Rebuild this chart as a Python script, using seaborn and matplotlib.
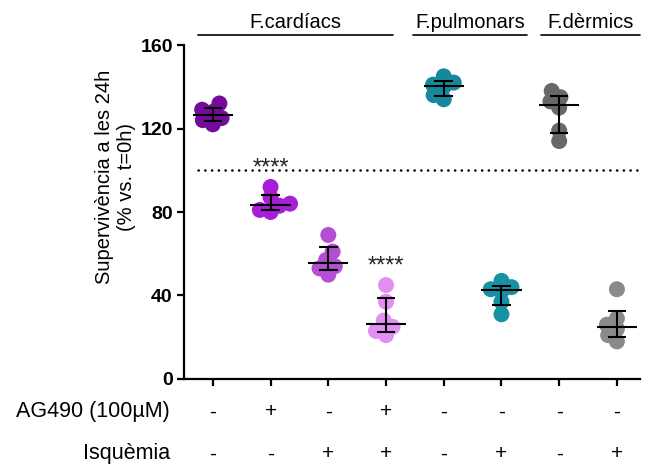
import numpy as np
import pandas as pd
import seaborn as sns
import matplotlib.pyplot as plt
from matplotlib.transforms import blended_transform_factory

# Survival at 24 h (% vs. t=0h), one array per condition
cardiac_ctrl = [122, 124, 125, 128, 129, 132]
cardiac_ag490 = [80, 81, 83, 84, 87, 92]
cardiac_isch = [50, 53, 54, 57, 61, 69]
cardiac_ag490_isch = [21, 23, 25, 28, 37, 45]
pulmonary_ctrl = [134, 136, 140, 141, 142, 145]
pulmonary_isch = [31, 37, 42, 43, 44, 47]
dermal_ctrl = [114, 119, 130, 133, 135, 138]
dermal_isch = [18, 21, 24, 26, 29, 43]

conditions = ["C", "C+AG", "C+I", "C+AG+I", "P", "P+I", "D", "D+I"]
series = [cardiac_ctrl, cardiac_ag490, cardiac_isch, cardiac_ag490_isch,
          pulmonary_ctrl, pulmonary_isch, dermal_ctrl, dermal_isch]
colors = ["#740B9A", "#A51FD6", "#B24FD2", "#E38EF2",
          "#15899B", "#1593A5", "#686868", "#8A8A8A"]

ag490_row = ["-", "+", "-", "+", "-", "-", "-", "-"]
ischemia_row = ["-", "-", "+", "+", "-", "+", "-", "+"]
row_labels = ["AG490 (100µM)", "Isquèmia"]

tissues = ["F.cardíacs", "F.pulmonars", "F.dèrmics"]
tissue_bounds = [(-0.26, 3.12), (3.47, 5.44), (5.68, 7.4)]

significance = {1: "****", 3: "****"}
reference_level = 100
y_ticks = [0, 40, 80, 120, 160]

df = pd.DataFrame({
    "condition": np.repeat(conditions, [len(s) for s in series]),
    "value": np.concatenate(series),
})

sns.set_theme(style="ticks")
plt.rcParams["font.family"] = ["Liberation Sans", "DejaVu Sans"]

fig = plt.figure(figsize=(6.46, 4.68), dpi=100)
ax = fig.add_axes([0.2848, 0.1902, 0.7059, 0.7136])

# compact swarm layout, then enlarge the dots so they overlap
sns.swarmplot(data=df, x="condition", y="value", hue="condition",
              order=conditions, palette=dict(zip(conditions, colors)),
              size=7.5, linewidth=0, legend=False, ax=ax, zorder=2)
ax.set_xlim(-0.5, 7.4)
ax.set_ylim(0, 160)
fig.canvas.draw()
for coll in ax.collections:
    if "draw" in coll.__dict__:
        del coll.draw
    coll.set_sizes([11.5 ** 2])

# median with interquartile range
for i, vals in enumerate(series):
    q1, med, q3 = np.percentile(vals, [25, 50, 75], method="weibull")
    ax.hlines(med, i - 0.35, i + 0.35, color="black", lw=1.5, zorder=3)
    ax.vlines(i, q1, q3, color="black", lw=1.5, zorder=3)
    ax.hlines([q1, q3], i - 0.16, i + 0.16, color="black", lw=1.5, zorder=3)

ax.plot([-0.25, 7.4], [reference_level, reference_level], color="black",
        lw=1.8, linestyle=(0, (0.1, 2.6)), dash_capstyle="round", zorder=1)

for i, mark in significance.items():
    ax.text(i, max(series[i]) + 9, mark, ha="center", va="center",
            fontsize=17, color="#222222")

ax.set_yticks(y_ticks)
ax.set_yticklabels([str(t) for t in y_ticks], fontsize=14, fontweight="bold")
ax.set_xticks(range(len(conditions)))
ax.set_xticklabels([])
ax.set_xlabel("")
ax.set_ylabel("Supervivència a les 24h\n(% vs. t=0h)", fontsize=14.5,
              color="black")
ax.yaxis.set_label_coords(-0.105, 0.605)
ax.tick_params(axis="both", length=5, width=1.6, colors="black", pad=3)
for side in ("left", "bottom"):
    ax.spines[side].set_linewidth(1.6)
    ax.spines[side].set_color("black")
sns.despine(ax=ax)

# tissue group headers
hdr = blended_transform_factory(ax.transData, fig.transFigure)
for name, (left, right) in zip(tissues, tissue_bounds):
    ax.plot([left, right], [0.925, 0.925], transform=hdr, color="black",
            lw=1.2, clip_on=False)
    ax.text((left + right) / 2, 0.952, name, transform=hdr, ha="center",
            va="center", fontsize=14.5, color="black")

# treatment table below the axis
for row, y in zip([ag490_row, ischemia_row], [0.12, 0.03]):
    for i, sign in enumerate(row):
        ax.text(i, y, sign, transform=hdr, ha="center", va="center",
                fontsize=15, color="black")
for label, y in zip(row_labels, [0.12, 0.03]):
    fig.text(170 / 646, y, label, ha="right", va="center", fontsize=15.5,
             color="black")

fig.savefig("out.png", dpi=100)
